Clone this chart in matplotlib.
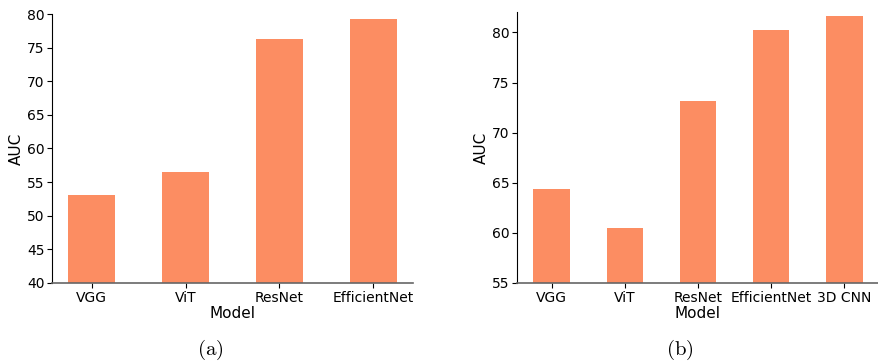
import matplotlib
matplotlib.use("Agg")
import matplotlib.pyplot as plt

plt.rcParams['mathtext.fontset'] = 'cm'

models_a = ["VGG", "ViT", "ResNet", "EfficientNet"]
auc_a = [53.1, 56.5, 76.3, 79.2]
models_b = ["VGG", "ViT", "ResNet", "EfficientNet", "3D CNN"]
auc_b = [64.4, 60.5, 73.2, 80.2, 81.6]
bar_color = "#FC8D62"

W, H = 879, 364
fig = plt.figure(figsize=(W / 100, H / 100), dpi=100)

def px_axes(x0, y0, x1, y1):
    return fig.add_axes([x0 / W, 1 - y1 / H, (x1 - x0) / W, (y1 - y0) / H])

ax1 = px_axes(52, 14, 413, 283)
ax2 = px_axes(517, 12, 879, 283)

for ax, models, vals, ylim, yt in [
    (ax1, models_a, auc_a, (40, 80), range(40, 81, 5)),
    (ax2, models_b, auc_b, (55, 82.04), range(55, 81, 5)),
]:
    x = list(range(len(models)))
    ax.bar(x, vals, width=0.5, color=bar_color)
    ax.set_xticks(x)
    ax.set_xticklabels(models, fontsize=10)
    ax.set_ylim(*ylim)
    ax.set_yticks(list(yt))
    ax.tick_params(axis='y', labelsize=10, length=3.5, pad=2)
    ax.tick_params(axis='x', length=3.5, pad=2)
    ax.set_xlabel("Model", fontsize=11, labelpad=1)
    ax.set_ylabel("AUC", fontsize=11, labelpad=2)
    ax.spines['top'].set_visible(False)
    ax.spines['right'].set_visible(False)
    ax.spines['bottom'].set_color('#666666')
    ax.spines['bottom'].set_linewidth(1.2)

fig.text(210 / W, 1 - 350 / H, r'$\mathrm{(a)}$', ha='center', va='center', fontsize=15)
fig.text(680 / W, 1 - 350 / H, r'$\mathrm{(b)}$', ha='center', va='center', fontsize=15)

fig.savefig("out.png", dpi=100)
